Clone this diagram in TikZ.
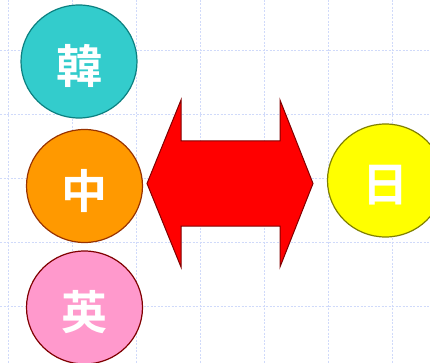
\documentclass[tikz,border=0pt]{standalone}
\usepackage{fontspec}
\newfontfamily\cjk{Noto Sans CJK KR}[BoldFont={Noto Sans CJK KR Bold}]
\definecolor{gridc}{HTML}{D0DAFA}
\definecolor{tealf}{HTML}{33CCCC}\definecolor{teald}{HTML}{0B8080}
\definecolor{orangef}{HTML}{FF9900}\definecolor{oranged}{HTML}{993300}
\definecolor{pinkf}{HTML}{FF99CC}\definecolor{pinkd}{HTML}{800000}
\definecolor{yellowf}{HTML}{FFFF00}\definecolor{yellowd}{HTML}{808000}
\definecolor{arrowd}{HTML}{800000}
\tikzset{
  gridline/.style={draw=gridc, line width=0.9pt, dash pattern=on 2pt off 1.5pt},
  lang/.style={ellipse, inner sep=0pt, line width=1.2pt, minimum width=116pt, minimum height=113pt},
  glyph/.style={text=white, font=\cjk\bfseries\fontsize{46}{46}\selectfont, inner sep=0pt}
}
\usetikzlibrary{shapes.geometric}
\begin{document}
\begin{tikzpicture}[x=1pt,y=-1pt]
\useasboundingbox (0,0) rectangle (430,363);
\fill[white] (0,0) rectangle (430,363);
\foreach \x in {8.5,72.5,136.5,200.5,264.5,328.5,392.5}
  \draw[gridline] (\x,0) -- (\x,363);
\foreach \y in {50,114,178,242,306}
  \draw[gridline] (0,\y) -- (430,\y);
\node[lang, draw=teald, fill=tealf] (kr) at (79,61.5) {};
\node[lang, draw=oranged, fill=orangef] (zh) at (84.5,186) {};
\node[lang, draw=pinkd, fill=pinkf] (en) at (84.5,307.5) {};
\node[lang, draw=yellowd, fill=yellowf] (ja) at (385.5,180.5) {};
\node[glyph] (krt) at (79,66) {韓};
\node[glyph] (zht) at (84.5,191) {中};
\node[glyph] (ent) at (84.5,312) {英};
\node[glyph] (jat) at (385.5,185) {日};
\draw[draw=arrowd, fill=red, line width=1pt, line join=miter]
  (147,183.5) -- (181,100) -- (181,141) -- (280,141) -- (280,100) -- (313,183.5)
  -- (280,267) -- (280,226) -- (181,226) -- (181,267) -- cycle;
\end{tikzpicture}
\end{document}
